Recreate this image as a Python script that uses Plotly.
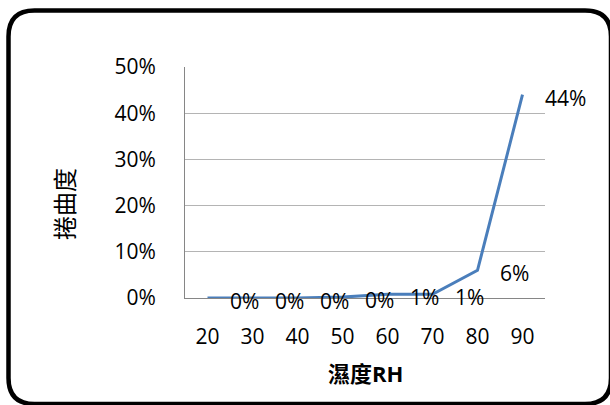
import plotly.graph_objects as go

# Humidity (RH) categories and measured curl ratio
humidity = ["20", "30", "40", "50", "60", "70", "80", "90"]
curl = [0.0, 0.0, 0.0, 0.002, 0.008, 0.008, 0.06, 0.44]
y_ticks = [0, 0.1, 0.2, 0.3, 0.4, 0.5]
y_tick_text = ["0%", "10%", "20%", "30%", "40%", "50%"]

W, H = 610, 405
ML, MR, MT, MB = 185, 65, 67, 107
PW, PH = W - ML - MR, H - MT - MB
FONT = "Open Sans, Noto Sans CJK TC, sans-serif"


def px_x(px):
    return (px - ML) / PW


def px_y(py):
    return (H - MB - py) / PH


fig = go.Figure()
fig.add_trace(go.Scatter(
    x=humidity, y=curl, mode="lines",
    line=dict(color="#4A7EBB", width=3),
    hoverinfo="skip", showlegend=False,
))

# value labels to the right of each point (category index positions)
annotations = [
    dict(x=i, y=v, xref="x", yref="y", text=f"{v:.0%}", showarrow=False,
         xanchor="left", yanchor="middle", xshift=20, yshift=-3,
         font=dict(family=FONT, size=21, color="#000000"))
    for i, v in enumerate(curl)
]

# axis titles
annotations.append(dict(
    x=px_x(63), y=px_y(204), xref="paper", yref="paper", text="捲曲度",
    textangle=-90, showarrow=False, xanchor="center", yanchor="middle",
    font=dict(family="Noto Sans CJK TC, sans-serif", size=24, color="#000000")))
annotations.append(dict(
    x=px_x(365), y=px_y(373), xref="paper", yref="paper", text="<b>濕度RH</b>",
    showarrow=False, xanchor="center", yanchor="middle",
    font=dict(family="Open Sans, Noto Sans CJK TC, sans-serif", size=22, color="#000000")))

# rounded frame around the chart
L, T, R, B, r = 8.5, 10.5, 611, 404, 26
path = (
    f"M {px_x(L + r)},{px_y(T)} L {px_x(R - r)},{px_y(T)} "
    f"Q {px_x(R)},{px_y(T)} {px_x(R)},{px_y(T + r)} "
    f"L {px_x(R)},{px_y(B - r)} Q {px_x(R)},{px_y(B)} {px_x(R - r)},{px_y(B)} "
    f"L {px_x(L + r)},{px_y(B)} Q {px_x(L)},{px_y(B)} {px_x(L)},{px_y(B - r)} "
    f"L {px_x(L)},{px_y(T + r)} Q {px_x(L)},{px_y(T)} {px_x(L + r)},{px_y(T)} Z"
)

fig.update_layout(
    width=W, height=H,
    margin=dict(l=ML, r=MR, t=MT, b=MB),
    paper_bgcolor="white", plot_bgcolor="white",
    font=dict(family=FONT, size=21, color="#000000"),
    annotations=annotations,
    shapes=[dict(type="path", path=path, xref="paper", yref="paper",
                 line=dict(color="#000000", width=4.5), layer="above")],
    xaxis=dict(
        type="category", range=[-0.5, 7.5],
        showgrid=False, showline=True, linecolor="#868686", linewidth=1,
        ticks="", ticklabelstandoff=20, zeroline=False,
        tickfont=dict(family=FONT, size=21, color="#000000"),
    ),
    yaxis=dict(
        range=[0, 0.5], tickvals=y_ticks, ticktext=y_tick_text,
        showgrid=True, gridcolor="#B4B4B4", gridwidth=1,
        showline=True, linecolor="#868686", linewidth=1,
        zeroline=False, ticks="", ticklabelstandoff=24,
        tickfont=dict(family=FONT, size=21, color="#000000"),
    ),
)

fig.write_html("out.html")
